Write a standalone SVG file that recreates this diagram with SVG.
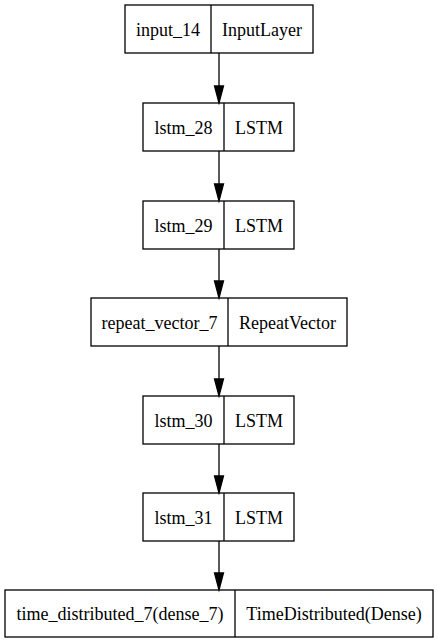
<svg xmlns="http://www.w3.org/2000/svg" width="438" height="644" viewBox="0 0 438 644">
<defs>
<style>
.box{fill:none;stroke:#000;stroke-width:1.3}
.t{font-family:"Liberation Serif","Times New Roman",serif;font-size:18px;fill:#000;text-anchor:middle}
.e{stroke:#000;stroke-width:1.3;fill:none}
.ah{fill:#000;stroke:#000;stroke-width:1.3}
</style>
</defs>
<rect width="438" height="644" fill="#fff"/>
<g id="connectors">
<line class="e" x1="219" y1="53" x2="219" y2="86"/><polygon class="ah" points="214.5,86 223.5,86 219,103"/>
<line class="e" x1="219" y1="151" x2="219" y2="184"/><polygon class="ah" points="214.5,184 223.5,184 219,201"/>
<line class="e" x1="219" y1="249" x2="219" y2="281"/><polygon class="ah" points="214.5,281 223.5,281 219,298"/>
<line class="e" x1="219" y1="346" x2="219" y2="379"/><polygon class="ah" points="214.5,379 223.5,379 219,396"/>
<line class="e" x1="219" y1="444" x2="219" y2="476"/><polygon class="ah" points="214.5,476 223.5,476 219,493"/>
<line class="e" x1="219" y1="541" x2="219" y2="573"/><polygon class="ah" points="214.5,573 223.5,573 219,590"/>
</g>
<g id="input_14">
<rect class="box" x="125" y="5" width="188" height="48"/><line class="box" x1="211" y1="5" x2="211" y2="53"/>
<text class="t" x="168" y="36">input_14</text><text class="t" x="262" y="36">InputLayer</text>
</g>
<g id="lstm_28">
<rect class="box" x="143" y="103" width="151" height="48"/><line class="box" x1="224" y1="103" x2="224" y2="151"/>
<text class="t" x="183.5" y="134">lstm_28</text><text class="t" x="259" y="134">LSTM</text>
</g>
<g id="lstm_29">
<rect class="box" x="143" y="201" width="151" height="48"/><line class="box" x1="224" y1="201" x2="224" y2="249"/>
<text class="t" x="183.5" y="232">lstm_29</text><text class="t" x="259" y="232">LSTM</text>
</g>
<g id="repeat_vector_7">
<rect class="box" x="91" y="298" width="256" height="48"/><line class="box" x1="228" y1="298" x2="228" y2="346"/>
<text class="t" x="159.5" y="329">repeat_vector_7</text><text class="t" x="287.5" y="329">RepeatVector</text>
</g>
<g id="lstm_30">
<rect class="box" x="143" y="396" width="151" height="48"/><line class="box" x1="224" y1="396" x2="224" y2="444"/>
<text class="t" x="183.5" y="427">lstm_30</text><text class="t" x="259" y="427">LSTM</text>
</g>
<g id="lstm_31">
<rect class="box" x="143" y="493" width="151" height="48"/><line class="box" x1="224" y1="493" x2="224" y2="541"/>
<text class="t" x="183.5" y="524">lstm_31</text><text class="t" x="259" y="524">LSTM</text>
</g>
<g id="time_distributed_7">
<rect class="box" x="5" y="590" width="428" height="47"/><line class="box" x1="235" y1="590" x2="235" y2="637"/>
<text class="t" x="120" y="620">time_distributed_7(dense_7)</text><text class="t" x="334" y="620">TimeDistributed(Dense)</text>
</g>
</svg>
